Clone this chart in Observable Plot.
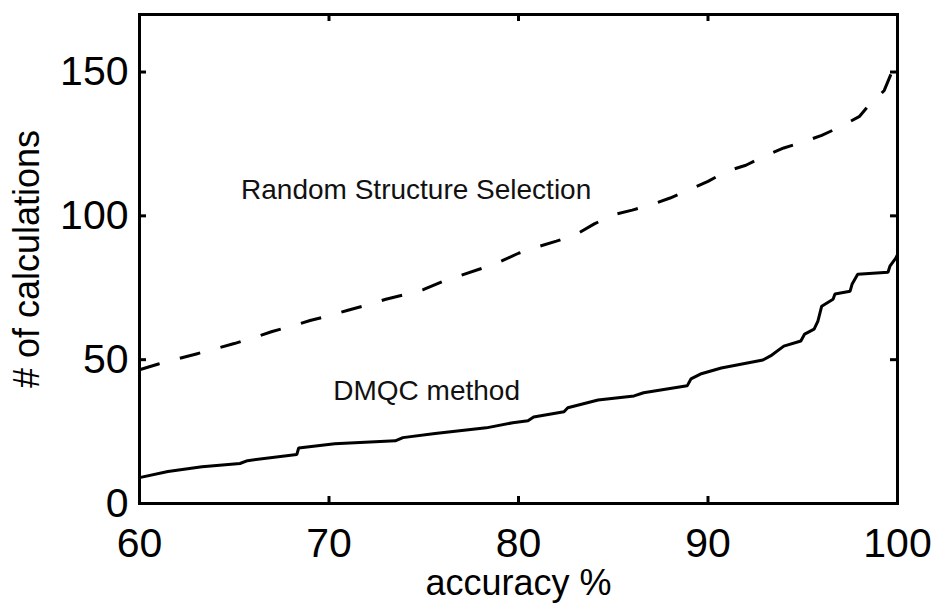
<!DOCTYPE html>
<html>
<head>
<meta charset="utf-8">
<script src="https://cdn.jsdelivr.net/npm/d3@7"></script>
<script src="https://cdn.jsdelivr.net/npm/@observablehq/plot@0.6"></script>
<style>
  html, body { margin: 0; padding: 0; background: #fff; }
  #chart svg { display: block; }
</style>
</head>
<body>
<div id="chart"></div>
<script>
// Random Structure Selection (dashed)
const randAcc  = [60, 61, 62, 63, 64, 65, 66, 67, 68, 69, 70, 71, 72, 73, 74, 75, 76, 77, 78, 79, 80, 81, 82, 83, 84, 85, 86, 87, 88, 89, 90, 91, 92, 93, 94, 95, 96, 97, 98, 98.5, 99, 99.3, 99.7, 100];
const randCalc = [46.5, 48.5, 50.3, 52, 53.8, 55.6, 57.6, 59.8, 61.6, 63.6, 65.3, 67.2, 69, 71, 72.6, 74.4, 77.2, 79.4, 81.6, 84, 87, 89.2, 91.2, 93.4, 97.2, 100.4, 102, 103.8, 106.2, 109, 112, 115.5, 117.6, 120.8, 123.6, 125.6, 128, 131, 134.6, 138.6, 141.6, 143.6, 150, 153];

// DMQC method (solid)
const dmqcAcc  = [60, 61.5, 63.3, 65.3, 65.7, 68.3, 68.4, 70.3, 73.5, 73.9, 75.6, 78.3, 79.7, 80.5, 80.8, 82.4, 82.6, 84.2, 86.1, 86.6, 88.9, 89.1, 89.6, 90.7, 92.9, 93.3, 94, 94.9, 95.1, 95.6, 95.8, 96, 96.6, 96.7, 97.5, 97.6, 97.9, 99.5, 99.6, 99.9, 100];
const dmqcCalc = [9.0, 11.1, 12.8, 13.9, 14.9, 17.0, 19.3, 20.8, 21.8, 22.9, 24.3, 26.3, 28.1, 28.8, 30.1, 31.9, 33.3, 36.0, 37.4, 38.5, 40.9, 43.3, 45.0, 47.1, 49.9, 51.3, 54.7, 56.5, 58.9, 60.6, 63.4, 68.6, 71.0, 72.8, 73.8, 76.2, 79.7, 80.4, 82.5, 85.2, 86.5];

// Ticks and labels
const xTicks = [60, 70, 80, 90, 100];
const yTicks = [0, 50, 100, 150];
const xLabel = "accuracy %";
const yLabel = "# of calculations";

// Series annotations
const noteText = ["Random Structure Selection", "DMQC method"];
const noteAcc  = [74.6, 75.15];
const noteCalc = [109, 39.2];

const randData = randAcc.map((a, i) => ({acc: a, calc: randCalc[i]}));
const dmqcData = dmqcAcc.map((a, i) => ({acc: a, calc: dmqcCalc[i]}));
const notes = noteText.map((t, i) => ({text: t, acc: noteAcc[i], calc: noteCalc[i]}));

const font = "'Liberation Sans', Arial, Helvetica, sans-serif";

const W = 936, H = 604, ML = 139, MR = 39, MT = 14, MB = 101;
const frameW = W - ML - MR, frameH = H - MT - MB;
const TL = 7; // inward tick length in px

const tickStyle = {stroke: "#000", strokeWidth: 3};

const chart = Plot.plot({
  width: W,
  height: H,
  marginLeft: ML,
  marginRight: MR,
  marginTop: MT,
  marginBottom: MB,
  style: {fontFamily: font, background: "#fff", color: "#000", overflow: "visible"},
  x: {domain: [60, 100]},
  y: {domain: [0, 170]},
  marks: [
    Plot.line(randData, {x: "acc", y: "calc", stroke: "#000", strokeWidth: 3, strokeDasharray: "21,21", strokeLinecap: "butt"}),
    Plot.line(dmqcData, {x: "acc", y: "calc", stroke: "#000", strokeWidth: 3, strokeLinejoin: "miter"}),
    Plot.frame({stroke: "#000", strokeWidth: 3}),
    // inward tick marks on all four sides
    Plot.tickX(xTicks, {x: d => d, ...tickStyle, insetTop: frameH - TL}),
    Plot.tickX(xTicks, {x: d => d, ...tickStyle, insetBottom: frameH - TL}),
    Plot.tickY(yTicks, {y: d => d, ...tickStyle, insetRight: frameW - TL}),
    Plot.tickY(yTicks, {y: d => d, ...tickStyle, insetLeft: frameW - TL}),
    // tick labels
    Plot.axisX({anchor: "bottom", ticks: xTicks, tickSize: 0, tickPadding: 24, fontSize: 41, label: null}),
    Plot.axisY({anchor: "left", ticks: yTicks, tickSize: 0, tickPadding: 11, fontSize: 41, label: null}),
    Plot.text(notes, {x: "acc", y: "calc", text: "text", fontSize: 28, fill: "#111", textAnchor: "middle"}),
    Plot.text([xLabel], {frameAnchor: "bottom", dy: 80, fontSize: 36, fill: "#000", textAnchor: "middle", lineAnchor: "middle"}),
    Plot.text([yLabel], {frameAnchor: "left", dx: -112, rotate: -90, fontSize: 36, fill: "#000", textAnchor: "middle", lineAnchor: "middle"})
  ]
});

document.getElementById("chart").appendChild(chart);
</script>
</body>
</html>
